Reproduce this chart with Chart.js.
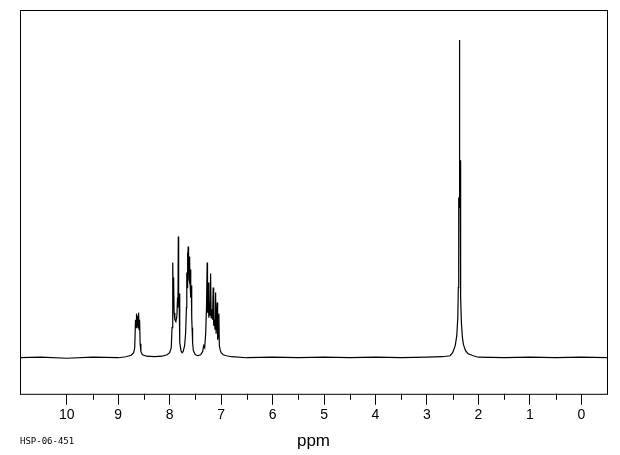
<!DOCTYPE html>
<html>
<head>
<meta charset="utf-8">
<title>HSP-06-451</title>
<script src="https://cdn.jsdelivr.net/npm/chart.js@4/dist/chart.umd.min.js"></script>
<style>
    html, body { margin: 0; padding: 0; background: #fff; }
    #wrap { width: 620px; height: 455px; position: relative; }
</style>
</head>
<body>
<div id="wrap"><canvas id="nmrChart"></canvas></div>
<script>
// chemical shift (ppm) and intensity
const shifts = [
    10.91, 10.5, 10.0, 9.5, 9.0, 8.85, 8.75, 8.70, 8.68,
    8.665, 8.655, 8.645, 8.635, 8.625, 8.615, 8.605, 8.595, 8.585, 8.575, 8.56, 8.53, 8.45,
    8.3, 8.15, 8.05, 8.0, 7.97,
    7.955, 7.945, 7.937, 7.930, 7.924, 7.915, 7.90, 7.88, 7.86, 7.848, 7.84, 7.833, 7.826, 7.818, 7.81, 7.80,
    7.78, 7.76, 7.74, 7.71, 7.69,
    7.675, 7.668, 7.662, 7.655, 7.648, 7.642, 7.636, 7.63, 7.624, 7.618, 7.612, 7.606, 7.60, 7.594, 7.588, 7.58, 7.572, 7.565, 7.555, 7.54,
    7.50, 7.45, 7.40, 7.36, 7.34,
    7.32, 7.30, 7.285, 7.272, 7.265, 7.252, 7.24, 7.228, 7.218, 7.205, 7.195, 7.18, 7.168, 7.155, 7.145, 7.13, 7.12, 7.108, 7.098, 7.077, 7.068, 7.055, 7.044, 7.035, 7.02, 7.00, 6.96, 6.90, 6.8,
    6.5, 6.0, 5.5, 5.0, 4.5, 4.0, 3.5, 3.0, 2.7, 2.55,
    2.50, 2.45, 2.42, 2.40, 2.39, 2.385, 2.38, 2.374, 2.368, 2.362, 2.356, 2.35, 2.34, 2.33, 2.31, 2.29, 2.25, 2.2, 2.1,
    2.0, 1.5, 1.0, 0.5, 0.0, -0.5
];
const intensities = [
    0, 0.5, -0.5, 0.5, 0, 1, 2.5, 5, 10,
    38, 30, 44, 32, 42, 30, 45, 28, 38, 14, 6, 3, 1.5,
    1, 1.5, 3, 5, 10,
    30, 60, 95, 50, 80, 45, 38, 36, 42, 60, 50, 121, 55, 64, 30, 15,
    7, 5, 6, 12, 25,
    50, 85, 70, 105, 80, 111, 85, 100, 78, 101, 75, 95, 70, 88, 60, 72, 40, 30, 15, 7,
    3, 2, 3, 6, 12,
    10, 25, 50, 95, 45, 75, 40, 55, 42, 84, 40, 48, 38, 70, 32, 38, 28, 65, 24, 55, 18, 22, 44, 12, 8, 5, 3, 2, 1,
    0, 0.5, 0, 0.5, 0, 0.5, 0, 0.5, 1, 2,
    5, 12, 22, 40, 70, 120, 160, 150, 317, 190, 197, 120, 60, 35, 20, 13, 7, 4, 2,
    0.5, 0, 0.5, 0, 0.5, 0
];
const majorTicks = [10, 9, 8, 7, 6, 5, 4, 3, 2, 1, 0];
const minorTicks = [9.5, 8.5, 7.5, 6.5, 5.5, 4.5, 3.5, 2.5, 1.5, 0.5];
const axisTitle = 'ppm';
const sampleId = 'HSP-06-451';

// frame + minor ticks + sample id
const framePlugin = {
    id: 'frame',
    afterDraw(chart) {
        const ctx = chart.ctx;
        const area = chart.chartArea;
        const xScale = chart.scales.x;
        ctx.save();
        ctx.strokeStyle = '#000';
        ctx.lineWidth = 1;
        ctx.strokeRect(area.left + 0.5, area.top + 0.5, area.right - area.left, area.bottom - area.top);
        ctx.beginPath();
        minorTicks.forEach(v => {
            const px = Math.round(xScale.getPixelForValue(v)) + 0.5;
            ctx.moveTo(px, area.bottom);
            ctx.lineTo(px, area.bottom + 6);
        });
        ctx.stroke();
        ctx.fillStyle = '#000';
        ctx.font = '9px "DejaVu Sans Mono"';
        ctx.textBaseline = 'middle';
        ctx.fillText(sampleId, 20, 442);
        ctx.restore();
    }
};

document.addEventListener('DOMContentLoaded', function() {
    const ctx = document.getElementById('nmrChart').getContext('2d');
    new Chart(ctx, {
        type: 'line',
        data: {
            datasets: [{
                data: shifts.map((s, i) => ({ x: s, y: intensities[i] })),
                borderColor: '#000',
                borderWidth: 1.2,
                pointRadius: 0,
                tension: 0,
                fill: false
            }]
        },
        options: {
            responsive: true,
            maintainAspectRatio: false,
            animation: false,
            layout: {
                padding: { left: 20, right: 13, top: 10, bottom: 0 }
            },
            plugins: {
                legend: { display: false },
                tooltip: { enabled: false }
            },
            scales: {
                x: {
                    type: 'linear',
                    reverse: true,
                    min: -0.5,
                    max: 10.91,
                    afterBuildTicks: scale => {
                        scale.ticks = majorTicks.map(v => ({ value: v }));
                    },
                    border: { display: false },
                    grid: {
                        drawOnChartArea: false,
                        drawTicks: true,
                        tickLength: 11,
                        tickColor: '#000',
                        tickWidth: 1
                    },
                    ticks: {
                        color: '#000',
                        padding: 2,
                        maxRotation: 0,
                        autoSkip: false,
                        font: { family: '"Liberation Sans", Arial, sans-serif', size: 14 }
                    },
                    title: {
                        display: true,
                        text: axisTitle,
                        color: '#000',
                        padding: { top: 6, bottom: 3 },
                        font: { family: '"Liberation Sans", Arial, sans-serif', size: 17 }
                    }
                },
                y: {
                    display: false,
                    min: -36,
                    max: 347
                }
            }
        },
        plugins: [framePlugin]
    });
});
</script>
</body>
</html>
